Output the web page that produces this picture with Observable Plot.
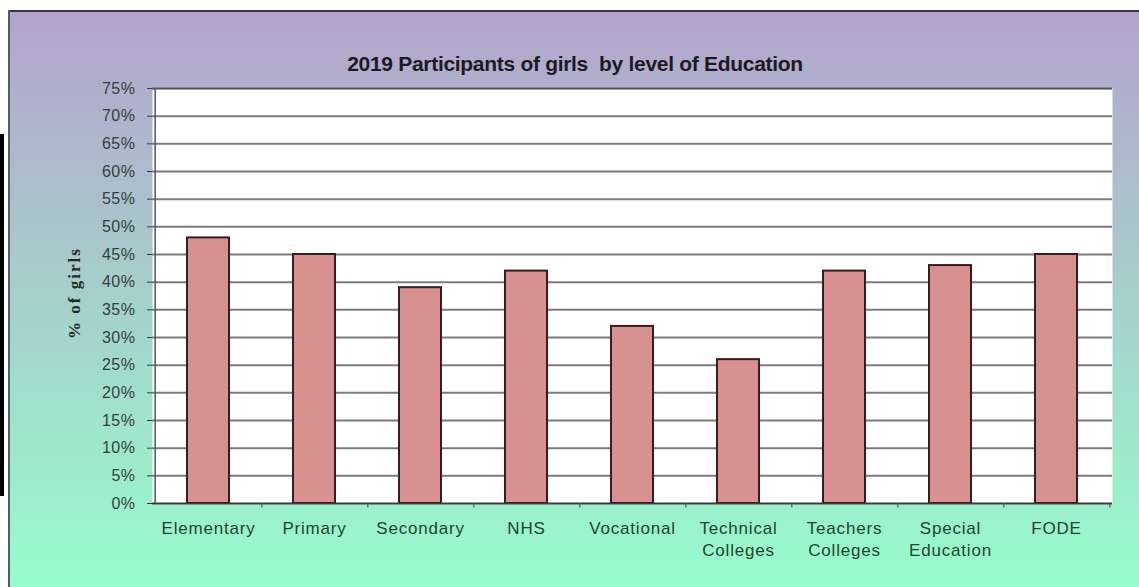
<!DOCTYPE html>
<html>
<head>
<meta charset="utf-8">
<script src="https://cdn.jsdelivr.net/npm/d3@7"></script>
<script src="https://cdn.jsdelivr.net/npm/@observablehq/plot@0.6"></script>
<style>
  html, body { margin: 0; padding: 0; background: #ffffff; width: 1139px; height: 587px; overflow: hidden; }
  #blackbar { position: absolute; left: 0; top: 134px; width: 4px; height: 362px; background: #000; }
  #chart {
    position: absolute; left: 8px; top: 10px; width: 1131px; height: 577px;
    background: linear-gradient(to bottom, #b4a3cc 0%, #97fdcb 100%);
    box-shadow: inset 2px 0 0 #4d5f66, inset 0 2px 0 #3a3250;
  }
  #title {
    position: absolute; left: 0; top: 42px; width: 1134px; text-align: center; white-space: pre;
    font-family: Arial, "Liberation Sans", sans-serif; font-weight: bold; font-size: 21px;
    line-height: 24px; color: #1c1a24; letter-spacing: -0.3px;
  }
  #ylabel {
    position: absolute; left: -33px; top: 273px; width: 200px; height: 20px; line-height: 20px;
    text-align: center; transform: rotate(-90deg);
    font-family: "Liberation Serif", "Times New Roman", serif; font-weight: bold; font-size: 17px;
    letter-spacing: 2px; color: #1e2a26;
  }
  #plot { position: absolute; left: 0; top: 0; }
  g[aria-label="x-axis tick label"] text { letter-spacing: 0.8px; }
  g[aria-label="y-axis tick label"] text { letter-spacing: 0.5px; }
</style>
</head>
<body>
<div id="blackbar"></div>
<div id="chart">
  <div id="plot"></div>
  <div id="title"></div>
  <div id="ylabel"></div>
</div>
<script>
const titleText = "2019 Participants of girls  by level of Education";
const yAxisLabel = "% of girls";
const categories = ["Elementary", "Primary", "Secondary", "NHS", "Vocational", "Technical\nColleges", "Teachers\nColleges", "Special\nEducation", "FODE"];
const values = [48, 45, 39, 42, 32, 26, 42, 43, 45];
const yTicks = [0, 5, 10, 15, 20, 25, 30, 35, 40, 45, 50, 55, 60, 65, 70, 75];

const data = categories.map((c, i) => ({category: c, value: values[i]}));

const W = 1131, H = 577, ML = 144, MR = 27, MT = 78, MB = 84;
const bw = (W - ML - MR) / categories.length;

document.getElementById("title").textContent = titleText;
document.getElementById("ylabel").textContent = yAxisLabel;

const chart = Plot.plot({
  width: W, height: H,
  marginLeft: ML, marginRight: MR, marginTop: MT, marginBottom: MB,
  style: {background: "transparent", fontFamily: "Arial, 'Liberation Sans', sans-serif", overflow: "visible"},
  x: {domain: categories, padding: 0},
  y: {domain: [0, 75]},
  marks: [
    Plot.frame({fill: "white", stroke: null}),
    Plot.ruleY(yTicks, {stroke: "#7c7c7c", strokeWidth: 2}),
    Plot.ruleY([yTicks[yTicks.length - 1]], {stroke: "#555", strokeWidth: 1.5}),
    Plot.barY(data, {x: "category", y: "value", fill: "#d89191", stroke: "#3b1c1c", strokeWidth: 2, insetLeft: 32, insetRight: 32}),
    Plot.ruleY([0], {stroke: "#3a3a3a", strokeWidth: 1.5}),
    Plot.ruleX([categories[0]], {dx: -bw / 2, y1: 0, y2: 75, stroke: "#555", strokeWidth: 1.5}),
    Plot.ruleX(categories, {dx: bw / 2, y1: 0, y2: -0.8, stroke: "#555", strokeWidth: 1.2}),
    Plot.axisY({ticks: yTicks, tickFormat: d => d + "%", tickSize: 5, tickPadding: 12, label: null, fontSize: 16, color: "#34403f"}),
    Plot.axisX({tickSize: 0, tickPadding: 15, label: null, fontSize: 17, lineHeight: 1.3, color: "#21452f"})
  ]
});
document.getElementById("plot").appendChild(chart);
</script>
</body>
</html>
